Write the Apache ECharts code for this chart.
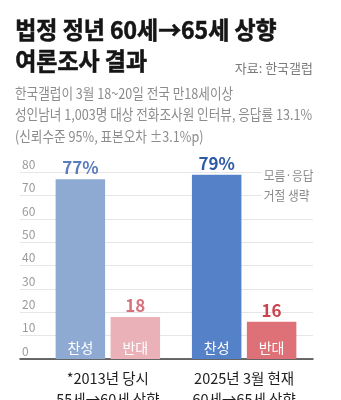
<!DOCTYPE html>
<html>
<head>
<meta charset="utf-8">
<script src="https://cdn.jsdelivr.net/npm/echarts@6/dist/echarts.min.js"></script>
<style>
  html, body { margin: 0; padding: 0; background: #fff; }
  #chart { width: 341px; height: 400px; }
</style>
</head>
<body>
<div id="chart"></div>
<script>
// Survey periods (category axis)
const periods = ['*2013년 당시\n55세→60세 상향', '2025년 3월 현재\n60세→65세 상향'];
// Share of respondents, %
const approve = [77, 79];
const oppose = [18, 16];
const approveName = '찬성';
const opposeName = '반대';
// Value-axis ticks
const yTicks = [0, 10, 20, 30, 40, 50, 60, 70, 80];

const titleLines = ['법정 정년 60세→65세 상향', '여론조사 결과'];
const sourceText = '자료: 한국갤럽';
const noteLines = [
  '한국갤럽이 3월 18~20일 전국 만18세이상',
  '성인남녀 1,003명 대상 전화조사원 인터뷰, 응답률 13.1%',
  '(신뢰수준 95%, 표본오차 ±3.1%p)'
];
const omitNote = '모름·응답\n거절 생략';

const FONT = "'Noto Sans CJK KR', 'Noto Sans', sans-serif";

// Fill colours per period: earlier survey muted, latest survey saturated
const approveFill = ['#8eaad3', '#5481c8'];
const approveText = ['#5b7bbf', '#2d5ba6'];
const opposeFill = ['#ebb1b9', '#de7077'];
const opposeText = ['#d9707a', '#c9424e'];

const chart = echarts.init(document.getElementById('chart'), null, { renderer: 'canvas' });

const gridTop = 172.3, gridBottom = 41;

const barCommon = {
  type: 'bar',
  barWidth: 49.5,
  barGap: '11%',
  xAxisIndex: 1,
  yAxisIndex: 1,
  animation: false
};

function valueSeries(name, values, fills, texts, suffix) {
  return Object.assign({}, barCommon, {
    name: name,
    z: 2,
    data: values.map((v, i) => ({
      value: v,
      itemStyle: { color: fills[i] },
      label: { color: texts[i] }
    })),
    label: {
      show: true,
      position: 'top',
      distance: 3,
      fontFamily: FONT,
      fontSize: 17,
      fontWeight: 'bold',
      formatter: p => p.value + suffix
    }
  });
}

// Transparent twin bars that carry the in-bar answer names
function nameSeries(name, values) {
  return Object.assign({}, barCommon, {
    name: name + '-name',
    xAxisIndex: 2,
    z: 3,
    silent: true,
    data: values,
    itemStyle: { color: 'rgba(0,0,0,0)' },
    label: {
      show: true,
      position: 'insideBottom',
      distance: 4,
      color: '#ffffff',
      fontFamily: FONT,
      fontSize: 14,
      formatter: () => name
    }
  });
}

const graphics = [];
titleLines.forEach((t, i) => {
  graphics.push({
    type: 'text', left: 15, top: 18 + i * 31, silent: true, z: 10,
    scaleX: 0.955,
    style: {
      text: t, fontFamily: FONT, fontSize: 24, fontWeight: 'bold',
      fill: '#151515', stroke: '#151515', lineWidth: 0.6
    }
  });
});
graphics.push({
  type: 'text', right: 28, top: 62, silent: true, z: 10,
  style: { text: sourceText, fontFamily: FONT, fontSize: 13, fill: '#7a7a7a' }
});
noteLines.forEach((t, i) => {
  graphics.push({
    type: 'text', left: 15, top: 86 + i * 21.5, silent: true, z: 10,
    scaleX: 0.87,
    style: { text: t, fontFamily: FONT, fontSize: 14.5, fill: '#8c8c8c' }
  });
});
graphics.push({
  type: 'text', left: 262, top: 165, silent: true, z: 10,
  scaleX: 0.9,
  style: {
    text: omitNote, fontFamily: FONT, fontSize: 13, lineHeight: 20,
    fill: '#8a8a8a', backgroundColor: '#ffffff', padding: [0, 4, 0, 2]
  }
});

chart.setOption({
  animation: false,
  grid: [
    { left: 20, right: 28, top: gridTop, bottom: gridBottom, containLabel: false, outerBoundsMode: 'none' },
    { left: 39.7, right: 28.7, top: gridTop, bottom: gridBottom, containLabel: false, outerBoundsMode: 'none' }
  ],
  xAxis: [
    {
      type: 'category', gridIndex: 0, data: [''],
      axisLine: { show: true, lineStyle: { color: '#3a3a3a', width: 1.5 } },
      axisTick: { show: false }, axisLabel: { show: false }, splitLine: { show: false }
    },
    {
      type: 'category', gridIndex: 1, data: periods,
      axisLine: { show: false }, axisTick: { show: false },
      axisLabel: {
        show: true, margin: 8.5, fontFamily: FONT, fontSize: 14.5, lineHeight: 21,
        color: '#1e1e1e'
      }
    },
    {
      type: 'category', gridIndex: 1, data: periods, show: false
    }
  ],
  yAxis: [
    {
      type: 'value', gridIndex: 0, min: yTicks[0], max: yTicks[yTicks.length - 1], interval: 10,
      axisLine: { show: false }, axisTick: { show: false },
      splitLine: { show: true, lineStyle: { color: '#e6e6e6', width: 1 } },
      axisLabel: {
        show: true, inside: true, margin: 2, verticalAlign: 'bottom', align: 'left',
        padding: [0, 0, 2, 0],
        fontFamily: FONT, fontSize: 12, color: '#9a9a9a'
      }
    },
    {
      type: 'value', gridIndex: 1, min: yTicks[0], max: yTicks[yTicks.length - 1], interval: 10,
      show: false, splitLine: { show: false }
    }
  ],
  series: [
    valueSeries(approveName, approve, approveFill, approveText, '%'),
    valueSeries(opposeName, oppose, opposeFill, opposeText, ''),
    nameSeries(approveName, approve),
    nameSeries(opposeName, oppose)
  ],
  graphic: graphics
});
</script>
</body>
</html>
